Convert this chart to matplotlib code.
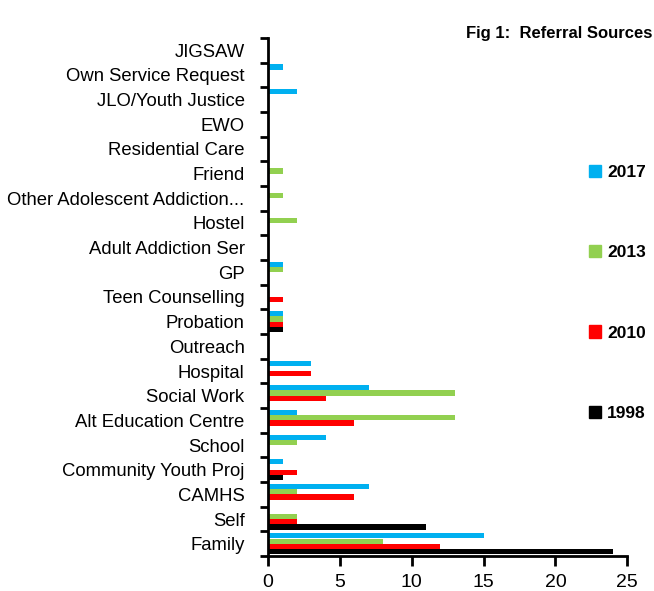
import numpy as np
import matplotlib.pyplot as plt
from matplotlib.patches import Patch

plt.rcParams['font.family'] = ['Liberation Sans', 'DejaVu Sans']

categories = ["Family", "Self", "CAMHS", "Community Youth Proj", "School",
              "Alt Education Centre", "Social Work", "Hospital", "Outreach",
              "Probation", "Teen Counselling", "GP", "Adult Addiction Ser",
              "Hostel", "Other Adolescent Addiction...", "Friend",
              "Residential Care", "EWO", "JLO/Youth Justice",
              "Own Service Request", "JIGSAW"]

y2017 = [15, 0, 7, 1, 4, 2, 7, 3, 0, 1, 0, 1, 0, 0, 0, 0, 0, 0, 2, 1, 0]
y2013 = [8, 2, 2, 0, 2, 13, 13, 0, 0, 1, 0, 1, 0, 2, 1, 1, 0, 0, 0, 0, 0]
y2010 = [12, 2, 6, 2, 0, 6, 4, 3, 0, 1, 1, 0, 0, 0, 0, 0, 0, 0, 0, 0, 0]
y1998 = [24, 11, 0, 1, 0, 0, 0, 0, 0, 1, 0, 0, 0, 0, 0, 0, 0, 0, 0, 0, 0]

series = [("2017", y2017, "#00b0f0"), ("2013", y2013, "#92d050"),
          ("2010", y2010, "#ff0000"), ("1998", y1998, "#000000")]

fig = plt.figure(figsize=(6.54, 5.91), dpi=100)
ax = fig.add_axes([0.41, 0.059, 0.549, 0.877])

y = np.arange(len(categories))
h = 0.21
offsets = [0.32, 0.107, -0.107, -0.32]
for (name, vals, col), off in zip(series, offsets):
    ax.barh(y + off, vals, height=h, color=col, label=name)

ax.set_xlim(0, 25)
ax.set_ylim(-0.5, len(categories) - 0.5)
ax.set_xticks([0, 5, 10, 15, 20, 25])
ax.set_yticks(np.arange(-0.5, len(categories)), labels=[])
ax.set_yticks(y, labels=categories, minor=True)
ax.tick_params(axis='y', which='minor', length=0, labelsize=13.3, pad=17)
ax.tick_params(axis='y', which='major', length=6, width=2, direction='out')
ax.tick_params(axis='x', length=7, width=2, direction='out', labelsize=14, pad=6)
for s in ['top', 'right']:
    ax.spines[s].set_visible(False)
for s in ['left', 'bottom']:
    ax.spines[s].set_linewidth(2)

handles = [Patch(color=c) for _, _, c in series]
labels = [n for n, _, _ in series]
ax.legend(handles, labels, loc='upper left', bbox_to_anchor=(0.85, 0.785),
          frameon=False, labelspacing=3.75, handlelength=0.7, handleheight=0.7,
          handletextpad=0.35, prop={'weight': 'bold', 'size': 12.5})

fig.text(0.998, 0.944, "Fig 1:  Referral Sources", ha='right', va='center',
         fontsize=12, fontweight='bold')

fig.savefig("out.png", dpi=100)
